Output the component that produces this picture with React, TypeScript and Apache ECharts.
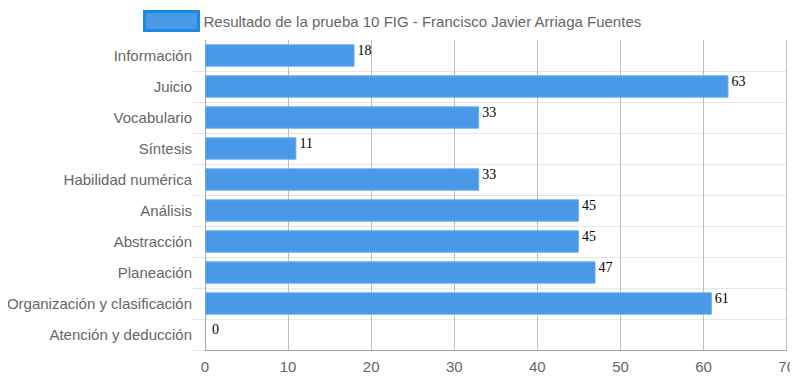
import React, { useEffect, useRef } from "react";
import * as echarts from "echarts";

const categories = [
  "Información",
  "Juicio",
  "Vocabulario",
  "Síntesis",
  "Habilidad numérica",
  "Análisis",
  "Abstracción",
  "Planeación",
  "Organización y clasificación",
  "Atención y deducción",
];
const values = [18, 63, 33, 11, 33, 45, 45, 47, 61, 0];
const seriesName = "Resultado de la prueba 10 FIG - Francisco Javier Arriaga Fuentes";
const xTicks = { min: 0, max: 70, interval: 10 };

export default function App() {
  const ref = useRef<HTMLDivElement>(null);
  useEffect(() => {
    const chart = echarts.init(ref.current!, null, { renderer: "svg" });
    const skipFirst = (i: number) => i !== 0;
    const barData = values.map((v) =>
      v === 0
        ? { value: v, itemStyle: { borderWidth: 0 }, label: { offset: [4, -5] } }
        : v
    );
    chart.setOption({
      animation: false,
      textStyle: { fontFamily: "'Liberation Sans', Arial, sans-serif" },
      legend: {
        left: 138,
        top: 5,
        itemWidth: 54,
        itemHeight: 19,
        itemGap: 10,
        textStyle: { color: "#666", fontSize: 15 },
        data: [
          {
            name: seriesName,
            icon: "rect",
            itemStyle: { color: "#4a98e8", borderColor: "#1e88e5", borderWidth: 3 },
          },
        ],
      },
      grid: { left: 205, right: 10, top: 40, bottom: 35, containLabel: false },
      xAxis: {
        type: "value",
        min: xTicks.min,
        max: xTicks.max,
        interval: xTicks.interval,
        axisLine: { show: true, lineStyle: { color: "#a6a6a6" } },
        axisTick: { show: false },
        axisLabel: { color: "#666", fontSize: 15, margin: 9 },
        splitLine: { show: true, lineStyle: { color: "#bfbfbf" } },
      },
      yAxis: {
        type: "category",
        inverse: true,
        data: categories,
        axisLine: { show: true, lineStyle: { color: "#a6a6a6" } },
        axisTick: { show: true, length: 13, interval: skipFirst, lineStyle: { color: "#e6e6e6" } },
        axisLabel: { color: "#666", fontSize: 15, margin: 13, padding: [0, 0, 3, 0] },
        splitLine: { show: true, interval: skipFirst, lineStyle: { color: "#e6e6e6" } },
      },
      graphic: [
        { type: "rect", left: 188, top: 39, z: 100, shape: { width: 16, height: 2 }, style: { fill: "#fff" } },
        { type: "rect", left: 206, top: 39, z: 100, shape: { width: 582, height: 1 }, style: { fill: "#fff" } },
      ],
      series: [
        {
          name: seriesName,
          type: "bar",
          data: barData,
          barWidth: "72%",
          itemStyle: { color: "#4a98e8", borderColor: "#6aaef0", borderWidth: 1 },
          label: {
            show: true,
            position: "right",
            distance: 3,
            offset: [0, -5],
            color: "#000",
            fontSize: 14,
            fontFamily: "'Liberation Serif', 'Times New Roman', serif",
          },
        },
      ],
    });
    return () => chart.dispose();
  }, []);
  return <div ref={ref} style={{ width: 798, height: 385, margin: -8 }} />;
}
